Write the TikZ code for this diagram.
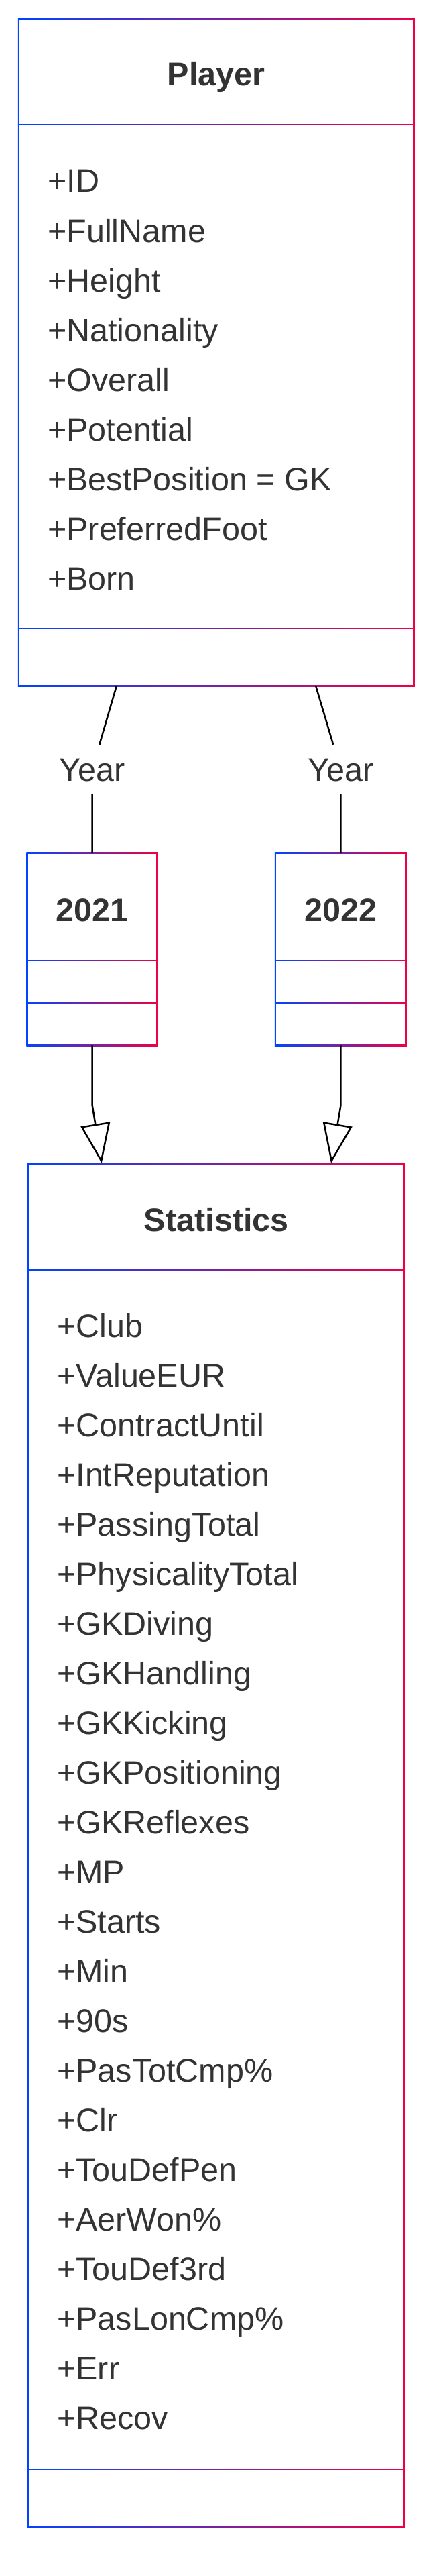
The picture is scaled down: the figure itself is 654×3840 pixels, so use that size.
\documentclass[tikz,border=0pt]{standalone}
\usepackage{fontspec}
\setmainfont{Liberation Sans}
\usetikzlibrary{arrows.meta}
\definecolor{cblue}{RGB}{0,68,255}
\definecolor{cred}{RGB}{240,0,68}
\definecolor{txt}{RGB}{51,51,51}
\newcommand\attrfont{\fontsize{48.5}{58}\selectfont}
\newcommand\titlefont{\fontsize{48.5}{58}\selectfont\bfseries}
% name, x1, x2, ytop, ysep1, ysep2, ybot
\newcommand\umlbox[7]{%
  \pgfmathsetmacro\bw{#3-#2}\pgfmathsetmacro\bh{#7-#4}%
  \node[minimum width=\bw pt, minimum height=\bh pt, inner sep=0pt, anchor=north west] (#1) at (#2,#4) {};
  \shade[left color=cblue, right color=cred] (#2-1.25,#4-1.25) rectangle (#3+1.25,#7+1.25);
  \fill[white] (#2+1.25,#4+1.25) rectangle (#3-1.25,#5-1.25);
  \fill[white] (#2+1.25,#5+1.25) rectangle (#3-1.25,#6-1.25);
  \fill[white] (#2+1.25,#6+1.25) rectangle (#3-1.25,#7-1.25);
}
\tikzset{
  attr/.style={anchor=base west, inner sep=0pt, text=txt, font=\attrfont},
  boxtitle/.style={anchor=base, inner sep=0pt, text=txt, font=\titlefont},
  rolelabel/.style={inner sep=0pt, minimum width=100pt, minimum height=74pt, text height=34pt, text depth=0pt, text=txt, font=\attrfont},
  conn/.style={draw=black, line width=2.5pt},
  inherit/.style={conn, -{Triangle[open, length=59pt, width=44pt]}}
}
\begin{document}
\begin{tikzpicture}[x=1pt, y=-1pt]
\fill[white] (0,0) rectangle (654,3840);
\useasboundingbox (0,0) rectangle (654,3840);

% boxes
\umlbox{player}{28}{617.5}{28.3}{186}{937}{1022}
\umlbox{y2021}{40.5}{234.5}{1272}{1432}{1495}{1558}
\umlbox{y2022}{411}{605.5}{1272}{1432}{1495}{1558}
\umlbox{stats}{42.3}{603.3}{1735}{1893}{3681}{3766}

% titles
\node[boxtitle] (ptitle) at (322.75,128) {Player};
\node[boxtitle] (t2021) at (137.5,1373) {2021};
\node[boxtitle] (t2022) at (508.25,1373) {2022};
\node[boxtitle] (stitle) at (322.8,1835) {Statistics};

% Player attributes
\foreach \t [count=\i from 0] in {+ID,+FullName,+Height,+Nationality,+Overall,+Potential,+BestPosition = GK,+PreferredFoot,+Born}
  \node[attr] (pattr\i) at ({71},{287+74*\i}) {\t};

% Statistics attributes
\foreach \t [count=\i from 0] in {+Club,+ValueEUR,+ContractUntil,+IntReputation,+PassingTotal,+PhysicalityTotal,+GKDiving,+GKHandling,+GKKicking,+GKPositioning,+GKReflexes,+MP,+Starts,+Min,+90s,+PasTotCmp\%,+Clr,+TouDefPen,+AerWon\%,+TouDef3rd,+PasLonCmp\%,+Err,+Recov}
  \node[attr] (sattr\i) at ({85},{1993+74*\i}) {\t};

% association labels
\node[rolelabel] (yl1) at (137.5,1147) {Year};
\node[rolelabel] (yl2) at (508.25,1147) {Year};

% association lines
\coordinate (pa) at (174,1022);
\coordinate (pb) at (471,1022);
\draw[conn] (pa) -- (yl1);
\draw[conn] (yl1) -- (y2021);
\draw[conn] (pb) -- (yl2);
\draw[conn] (yl2) -- (y2022);

% inheritance arrows
\coordinate (tipL) at (151.7,1734);
\coordinate (tipR) at (494,1734);
\draw[inherit] (y2021.south) -- ++(0,89) -- (tipL);
\draw[inherit] (y2022.south) -- ++(0,89) -- (tipR);
\end{tikzpicture}
\end{document}
